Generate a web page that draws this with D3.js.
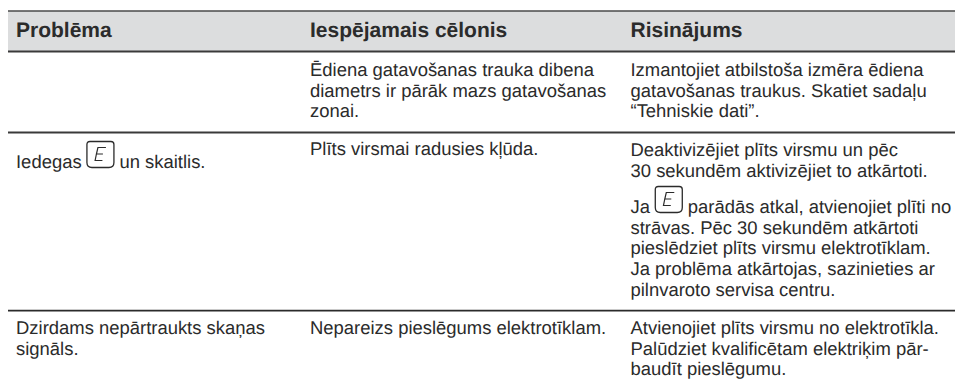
<!DOCTYPE html>
<html><head><meta charset="utf-8">
<script src="https://cdn.jsdelivr.net/npm/d3@7"></script>
<style>html,body{margin:0;padding:0;background:#fff}svg{display:block}text{font-family:"Liberation Sans",Arial,sans-serif;fill:#2b2b2b;text-rendering:geometricPrecision}</style>
</head><body><svg id="c" width="955" height="387"></svg>
<script>
const columnHeaders = ["Problēma", "Iespējamais cēlonis", "Risinājums"];
const row1Cause = ["Ēdiena gatavošanas trauka dibena", "diametrs ir pārāk mazs gatavošanas", "zonai."];
const row1Fix = ["Izmantojiet atbilstoša izmēra ēdiena", "gatavošanas traukus. Skatiet sadaļu", "“Tehniskie dati”."];
const row2Problem = [["Iedegas", "E", "un skaitlis."]];
const row2Cause = ["Plīts virsmai radusies kļūda."];
const row2FixA = ["Deaktivizējiet plīts virsmu un pēc", "30 sekundēm aktivizējiet to atkārtoti."];
const row2FixB = [["Ja", "E", "parādās atkal, atvienojiet plīti no"], "strāvas. Pēc 30 sekundēm atkārtoti", "pieslēdziet plīts virsmu elektrotīklam.", "Ja problēma atkārtojas, sazinieties ar", "pilnvaroto servisa centru."];
const row3Problem = ["Dzirdams nepārtraukts skaņas", "signāls."];
const row3Cause = ["Nepareizs pieslēgums elektrotīklam."];
const row3Fix = ["Atvienojiet plīts virsmu no elektrotīkla.", "Palūdziet kvalificētam elektriķim pār-", "baudīt pieslēgumu."];

const svg = d3.select("#c");
const W = 955, L = 8;
const colX = d3.scaleOrdinal().domain([0,1,2]).range([16, 310, 630.5]);
const BODY = 18.45, HEAD = 21, LH = 20.65;

svg.append("rect").attr("x",L).attr("y",11).attr("width",W-L).attr("height",40).attr("fill","#dcddde");
[[11,1.6,"#4a4a4a"],[51.5,1.8,"#3a3a3a"],[132.5,1.8,"#3a3a3a"],[310.7,1.8,"#2b2b2b"]].forEach(([y,w,c])=>
  svg.append("line").attr("x1",L).attr("x2",W).attr("y1",y).attr("y2",y).attr("stroke",c).attr("stroke-width",w));

svg.selectAll("text.h").data(columnHeaders).join("text").attr("class","h")
  .attr("x",(d,i)=>colX(i)).attr("y",37).attr("font-size",HEAD).attr("font-weight","bold").text(d=>d);

function icon(x,y){
  const g = svg.append("g").attr("transform",`translate(${x},${y})`);
  g.append("path").attr("fill","none").attr("stroke","#2b2b2b").attr("stroke-width",1.3)
    .attr("d","M3,0 H24 Q27,0 27,3 V21 Q27,26 22,26 H5 Q0,26 0,21 V3 Q0,0 3,0 Z");
  g.append("path").attr("fill","none").attr("stroke","#2b2b2b").attr("stroke-width",1.2)
    .attr("d","M19,6 H11 L9.5,12.5 H16 M9.5,12.5 L8.2,19 H15.5");
}
function block(lines,col,y0){
  const x0 = colX(col);
  lines.forEach((ln,i)=>{
    const y = y0 + i*LH;
    if(Array.isArray(ln)){
      const a = svg.append("text").attr("x",x0).attr("y",y).attr("font-size",BODY).text(ln[0]);
      const w = a.node().getComputedTextLength();
      const ix = x0 + w + 5.3;
      icon(ix, y-26.5);
      svg.append("text").attr("x",ix+32.5).attr("y",y).attr("font-size",BODY).text(ln[2]);
    } else {
      svg.append("text").attr("x",x0).attr("y",y).attr("font-size",BODY).text(ln);
    }
  });
}
block(row1Cause,1,76);
block(row1Fix,2,76);
block(row2Problem,0,168);
block(row2Cause,1,155);
block(row2FixA,2,156);
block(row2FixB,2,213);
block(row3Problem,0,334);
block(row3Cause,1,334);
block(row3Fix,2,334);
</script></body></html>
